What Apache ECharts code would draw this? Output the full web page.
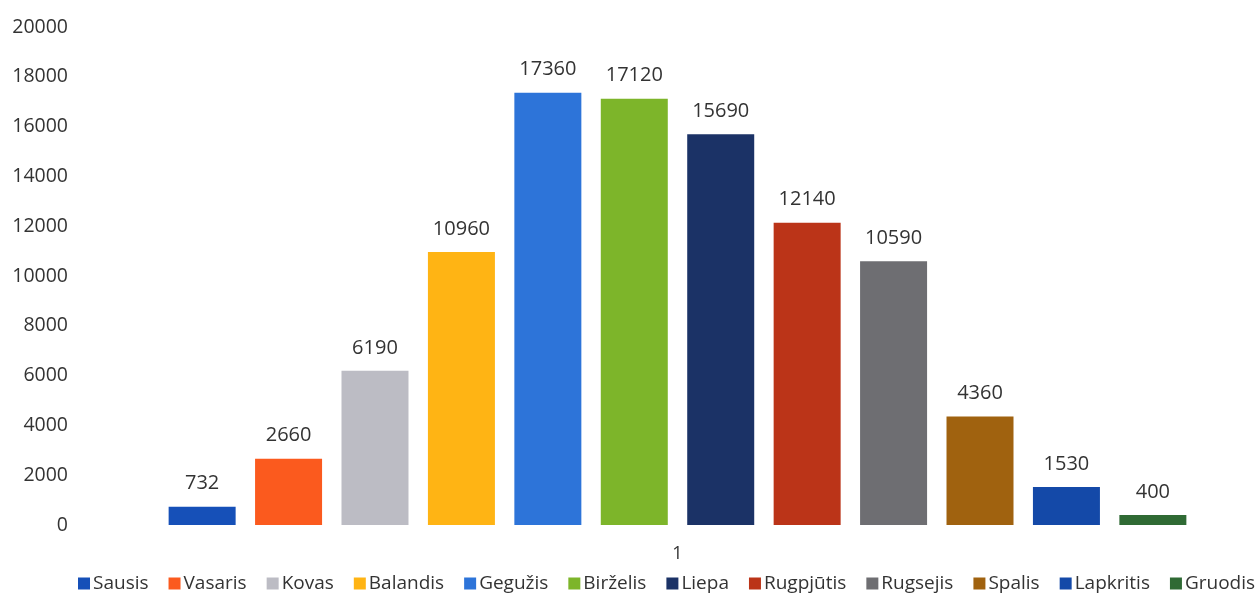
<!DOCTYPE html>
<html><head><meta charset="utf-8">
<script src="https://cdn.jsdelivr.net/npm/echarts@6/dist/echarts.min.js"></script>
<style>html,body{margin:0;padding:0;background:#fff}#c{width:1257px;height:596px}</style>
</head><body><div id="c"></div>
<script>
const categories = ['1'];
const seriesNames = ['Sausis','Vasaris','Kovas','Balandis','Gegužis','Birželis','Liepa','Rugpjūtis','Rugsejis','Spalis','Lapkritis','Gruodis'];
const seriesValues = [732, 2660, 6190, 10960, 17360, 17120, 15690, 12140, 10590, 4360, 1530, 400];
const seriesColors = ['#1650b8','#fb5a1e','#bcbcc4','#ffb414','#2d74d9','#7db52a','#1b3266','#bb3418','#6e6e72','#a0620f','#1449a8','#2f6a34'];
const yTicks = {min: 0, max: 20000, interval: 2000};

const font = '"Open Sans", "Noto Sans", sans-serif';
const chart = echarts.init(document.getElementById('c'), null, {renderer: 'canvas'});
chart.setOption({
  animation: false,
  textStyle: {fontFamily: font},
  grid: {left: 118, right: 20, top: 27, bottom: 71},
  legend: {
    top: 574, left: 78, padding: 0, itemWidth: 12, itemHeight: 12, itemGap: 20,
    icon: 'rect',
    textStyle: {fontFamily: font, fontSize: 19, color: '#333', padding: [0,0,0,-2]},
    data: seriesNames
  },
  xAxis: {
    type: 'category', data: categories,
    axisLine: {show: false}, axisTick: {show: false},
    axisLabel: {fontFamily: font, fontSize: 18, color: '#333', margin: 20}
  },
  yAxis: {
    type: 'value', min: yTicks.min, max: yTicks.max, interval: yTicks.interval,
    splitLine: {show: false}, axisLine: {show: false}, axisTick: {show: false},
    axisLabel: {fontFamily: font, fontSize: 19.5, color: '#333', margin: 50, formatter: v => String(v)}
  },
  series: seriesNames.map((n, i) => ({
    name: n, type: 'bar', data: [seriesValues[i]],
    barWidth: 67, barGap: '29%',
    itemStyle: {color: seriesColors[i]},
    label: {show: true, position: 'top', distance: 13, fontFamily: font, fontSize: 20, color: '#333'}
  }))
});
</script></body></html>
